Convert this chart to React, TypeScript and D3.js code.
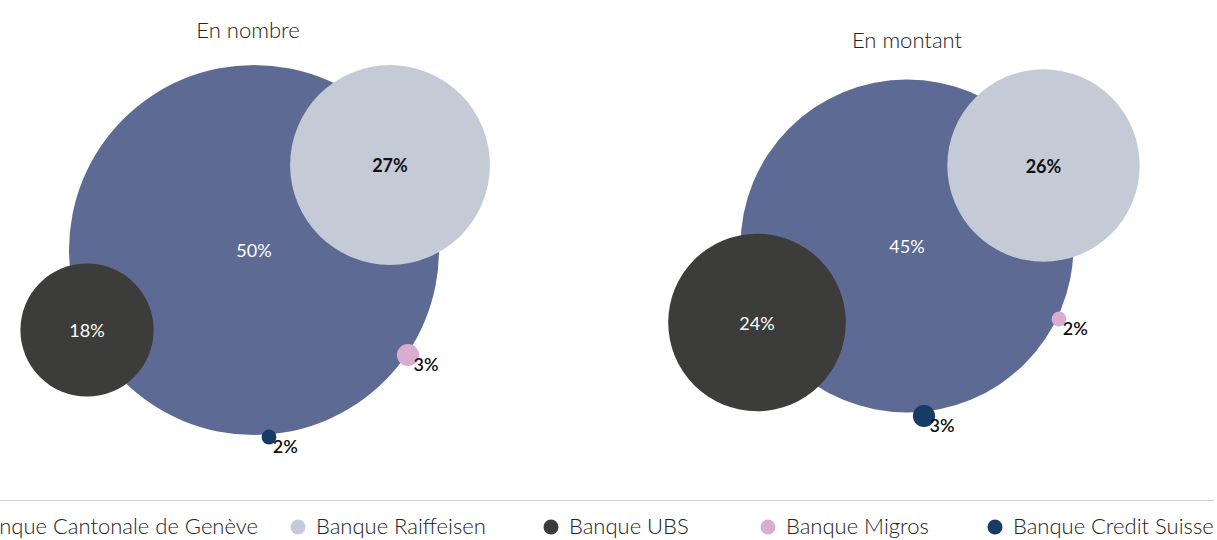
import React from "react";
import * as d3 from "d3";

const banks = [
  "Banque Cantonale de Genève",
  "Banque Raiffeisen",
  "Banque UBS",
  "Banque Migros",
  "Banque Credit Suisse",
];
const colors = ["#5d6a94", "#c5cad7", "#3c3c3a", "#d8aed0", "#173a66"];
const chartTitles = ["En nombre", "En montant"];
const valuesNombre = [50, 27, 18, 3, 2];
const valuesMontant = [45, 26, 24, 2, 3];

// layout (bubble centres, px)
const centresNombre: [number, number][] = [
  [254, 250],
  [390, 165],
  [87, 330],
  [408, 355],
  [269, 437],
];
const centresMontant: [number, number][] = [
  [907, 246],
  [1043.5, 165.5],
  [757, 322.5],
  [1059, 319],
  [924, 416],
];
const titlePos: [number, number][] = [
  [248, 38],
  [907, 48],
];
const labelStyle = ["white", "dark", "white", "outside", "outside"];
const legendMarkerX = [-43, 298, 551, 768, 995];

const FONT = "Lato, 'Noto Sans', sans-serif";

const r = d3.scaleLinear().domain([0, 50]).range([0, 185]);

function Bubbles({ values, centres }: { values: number[]; centres: [number, number][] }) {
  return (
    <g>
      {values.map((v, i) => {
        const [cx, cy] = centres[i];
        const rad = r(v);
        const st = labelStyle[i];
        return (
          <g key={i}>
            <circle cx={cx} cy={cy} r={rad} fill={colors[i]} />
            {st === "outside" ? (
              <text
                x={cx + rad * 0.5}
                y={cy + 9}
                dominantBaseline="central"
                fontSize={18}
                fontWeight={600}
                fill="#111"
                fontFamily={FONT}
              >
                {v}%
              </text>
            ) : (
              <text
                x={cx}
                y={cy}
                textAnchor="middle"
                dominantBaseline="central"
                fontSize={18}
                fontWeight={st === "dark" ? 700 : 400}
                fill={st === "dark" ? "#111" : "#ffffff"}
                fontFamily={FONT}
              >
                {v}%
              </text>
            )}
          </g>
        );
      })}
    </g>
  );
}

export default function App() {
  return (
    <svg
      width={1217}
      height={540}
      style={{ position: "absolute", left: 0, top: 0, background: "#fff" }}
    >
      {chartTitles.map((t, i) => (
        <text
          key={t}
          x={titlePos[i][0]}
          y={titlePos[i][1]}
          textAnchor="middle"
          fontSize={22}
          fontWeight={300}
          fill="#222"
          fontFamily={FONT}
        >
          {t}
        </text>
      ))}
      <Bubbles values={valuesNombre} centres={centresNombre} />
      <Bubbles values={valuesMontant} centres={centresMontant} />
      <line x1={0} x2={1214} y1={500.5} y2={500.5} stroke="#cfcfcf" strokeWidth={1.2} />
      {banks.map((b, i) => (
        <g key={b}>
          <circle cx={legendMarkerX[i]} cy={527} r={7.5} fill={colors[i]} />
          <text
            x={i === 0 ? 258 : legendMarkerX[i] + 18}
            y={534}
            textAnchor={i === 0 ? "end" : "start"}
            fontSize={22}
            fontWeight={300}
            fill="#222"
            fontFamily={FONT}
          >
            {b}
          </text>
        </g>
      ))}
    </svg>
  );
}
